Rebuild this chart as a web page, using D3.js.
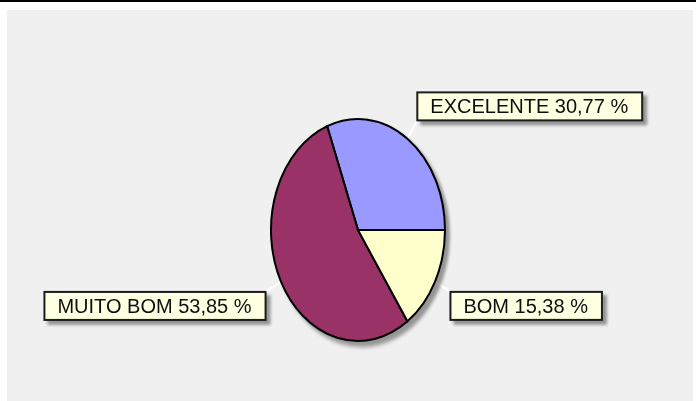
<!DOCTYPE html>
<html>
<head>
<meta charset="utf-8">
<script src="https://cdn.jsdelivr.net/npm/d3@7"></script>
<style>
  html, body { margin: 0; padding: 0; background: #fff; }
  svg { display: block; }
</style>
</head>
<body>
<figure id="pie" style="margin:0"></figure>
<script>
// chart data
const categories = ["EXCELENTE", "MUITO BOM", "BOM"];
const values = [30.77, 53.85, 15.38];
const colors = ["#9999ff", "#993366", "#ffffcc"];

const width = 696, height = 401;
const cx = 358, cy = 230;
const rx = 87, ry = 111;

const svg = d3.select("figure#pie")
  .append("svg")
  .attr("width", width)
  .attr("height", height);

const defs = svg.append("defs");
defs.append("filter")
  .attr("id", "shadow")
  .attr("x", "-20%").attr("y", "-20%")
  .attr("width", "150%").attr("height", "150%")
  .append("feDropShadow")
  .attr("dx", 4).attr("dy", 4)
  .attr("stdDeviation", 1.6)
  .attr("flood-color", "#000")
  .attr("flood-opacity", 0.38);

// top rule and panel
svg.append("rect").attr("x", 0).attr("y", 0).attr("width", width).attr("height", 2).attr("fill", "#000");
svg.append("rect").attr("x", 7).attr("y", 10).attr("width", 686).attr("height", 391).attr("fill", "#f0f0f0");

// pie goes counter-clockwise from 3 o'clock
const pie = d3.pie()
  .sort(null)
  .value(d => d.value)
  .startAngle(Math.PI / 2)
  .endAngle(Math.PI / 2 - 2 * Math.PI);

const data = categories.map((c, i) => ({ name: c, value: values[i], color: colors[i] }));
const arcs = pie(data);

const arc = d3.arc().innerRadius(0).outerRadius(rx);
const sy = ry / rx;

const g = svg.append("g")
  .attr("transform", "translate(" + cx + "," + cy + ")");

// leader lines and labels first (under the pie)
const fmt = v => d3.format(".2f")(v).replace(".", ",");
const mid = d => (d.startAngle + d.endAngle) / 2;

const lines = g.append("g");
const labels = g.append("g");

arcs.forEach(d => {
  const a = mid(d);
  const px = Math.sin(a) * rx, py = -Math.cos(a) * ry;
  const ax = Math.sin(a) * rx * 1.2, ay = -Math.cos(a) * ry * 1.2;

  lines.append("line")
    .attr("x1", px).attr("y1", py)
    .attr("x2", ax).attr("y2", ay)
    .attr("stroke", "#fff")
    .attr("stroke-width", 2);

  const lab = labels.append("g").attr("filter", "url(#shadow)");
  const box = lab.append("rect")
    .attr("fill", "#ffffe1")
    .attr("stroke", "#1a1a1a")
    .attr("stroke-width", 2);
  const txt = lab.append("text")
    .attr("font-family", "Liberation Sans, Arial, sans-serif")
    .attr("font-size", 20)
    .attr("fill", "#111")
    .text(d.data.name + " " + fmt(d.data.value) + " %");

  const w = txt.node().getComputedTextLength() + 27;
  const h = 28;
  const bx = ax >= 0 ? ax : ax - w;
  const by = ay < 0 ? ay - h : ay;
  box.attr("x", bx).attr("y", by).attr("width", w).attr("height", h);
  txt.attr("x", bx + 13).attr("y", by + 21);
});

// slices
g.append("g")
  .attr("transform", "scale(1," + sy + ")")
  .attr("filter", "url(#shadow)")
  .selectAll("path")
  .data(arcs)
  .enter()
  .append("path")
  .attr("d", arc)
  .attr("fill", d => d.data.color)
  .attr("stroke", "#000")
  .attr("stroke-width", 2)
  .attr("vector-effect", "non-scaling-stroke");
</script>
</body>
</html>
